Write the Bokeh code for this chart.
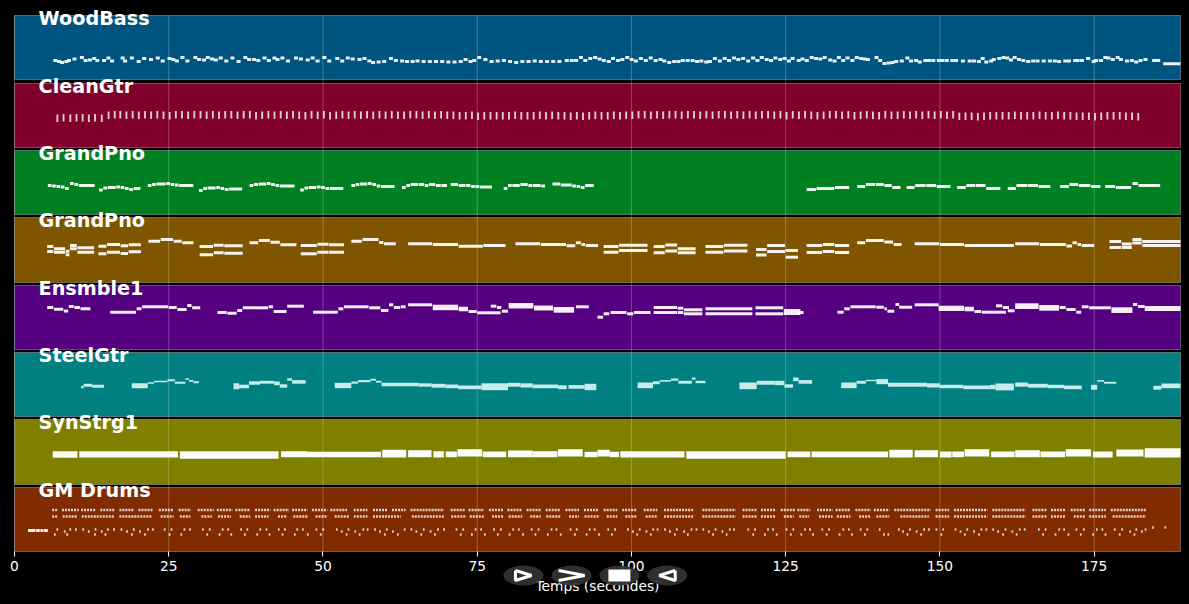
from bokeh.plotting import figure
from bokeh.models import Range1d, FixedTicker
from bokeh.core.properties import value
from bokeh.embed import file_html
from bokeh.resources import INLINE

TRACK_NAMES = ["WoodBass", "CleanGtr", "GrandPno", "GrandPno", "Ensmble1", "SteelGtr", "SynStrg1", "GM Drums"]
TRACK_COLORS = ["#005580", "#80002b", "#008020", "#805500", "#550080", "#008080", "#808000", "#802b00"]
X_TICKS = [0, 25, 50, 75, 100, 125, 150, 175]
DURATION = 189
AXIS_LABEL = "Temps (secondes)"

BASS_T = [6.3,6.9,7.4,8.1,8.5,9.4,10.6,11.2,11.9,12.6,13.1,14.2,14.9,15.5,17.2,17.6,18.7,19.8,20.7,21.8,22.9,23.7,24.8,25.4,26,26.9,27.7,29,29.6,30.4,31,31.7,32.3,33.1,34,35,36,37.1,37.7,38.5,39.2,40.2,40.9,41.8,42.3,43.1,44,45.3,46.1,47.2,48,48.8,49.9,50.7,52,52.8,53.7,54.5,55.6,56.4,57.2,57.8,58.7,59.6,60.7,61.5,62.5,63.3,64.2,65,66,67,68,69,70,71,72,72.8,73.6,74.2,75,76,77,78,79,80,81,82,83,84,85,86,87,88,89.2,90,90.7,91.5,92.2,93,93.8,94.5,95.2,96,96.7,97.5,98.2,99,99.7,100.4,101.2,102,102.8,103.6,104.4,105,105.8,106.6,107.3,108,108.8,109.6,110.3,111,111.8,112.4,113.2,114,114.8,115.5,116.3,117,117.8,118.6,119.4,120.1,120.8,121.6,122.3,123,123.8,124.5,125.2,125.8,126.8,127.4,128.1,128.9,129.6,130.3,131,131.9,132.6,133.3,134,134.7,135.5,136.2,136.9,137.5,138,139.4,140,140.7,141.4,142,142.6,143.5,144.4,145,145.8,146.4,147.3,147.9,148.6,149.5,150.1,150.8,151.7,152.3,153.4,154.5,155.2,156,156.6,157.2,158,158.4,159.3,160,160.6,161.2,161.8,162.5,163.2,164,164.8,165.5,166.5,167.5,168.3,169,170,170.6,171.6,172,172.7,173.7,174.6,175,175.8,176.5,177,177.7,178.5,179,180,180.8,181.5,182.2,183]
BASS_P = [19,18,17,18,19,20.5,22,19,19.5,21,19,19,21.5,18.5,21.5,18.5,21.5,18,21,20,21.5,18.5,21,20,18.5,22,18.5,22,20,19.5,22,20.5,19.5,21.5,18.5,21.5,18,22,20,20,19,21.5,19,21.5,20,21.5,18.5,21.5,20.5,19.5,21.5,18.5,22,18.5,21,18.5,21.5,20.5,20,21,18.5,17,17.5,18,21,19,18.5,18,18,18.5,18,18,18,18,17.5,17.5,18,20,18,19,22,20,18,18.5,19,18,17,18,18,18.5,18,18,18,18,19,19,19,22,19,21,22,20.5,19,18,21,19,20,22,20,18.5,21,19,21.5,19,20,18.5,17,18,18,19,19,19,18,18.5,17.5,18,21,18.5,21,19,21.5,20,21,18.5,21.5,19,22,20,19,21.5,20,21,18.5,21,19,20.5,19,22,21,20.5,22,19.5,18.5,22,19,21.5,19,22,21,20.5,20,22,19,16,16.5,17,18,18.5,21.5,18.5,19,17.5,19,19,19,19,19,19,19,19,18.5,18.5,18.5,18,21,17.5,18.5,20,21,22,21.5,19.5,22,20,19,18,18.5,18.5,18.5,18.5,18.5,18,18.5,18.5,19,19,19,21,18,19,19,22,21.5,20,22,20,18.5,19,17.5,19,20,20.5,21.5]
BASS_LONG_START = [184.4, 186.2]
BASS_LONG_END = [185.7, 189]
BASS_LONG_P = [19, 15.7]

GTR_T = [6.8,7.8,8.9,9.9,10.9,11.9,12.9,14,15.1,16.1,17,18,19,20,21,22,23,24,25,26,27,28,29,30,31,32,33,34,35,36,37,38,39,40,41,42,43,44,45,46,47,48,49,50,51,52,53,54,55,56,57,58,59,60,61,62,63,64,65,66,67,68,69,70,71,72,73,74,75,76,77,78,79,80,81,82,83,84,85,86,87,88,89,90,91,92,93,94,95,96,97,98,99,100,101,102,103,104,105,106,107,108,109,110,111,112,113,114,115,116,117,118,119,120,121,122,123,124,125,126,127,128,129,130,131,132,133,134,135,136,137,138,139,140,141,142,143,144,145,146,147,148,149,150,151,152,153,154,155,156,157,158,159,160,161,162,163,164,165,166,167,168,169,170,171,172,173,174,175,176,177,178,179,180,181,182]
GTR_LOW = [25.5,26,25.5,26,26,25.5,26,25.5,28.5,29,29,28.5,29,28.5,29,28.5,29,28.5,28,29,29,28.5,29,29,28.5,29,28.5,29,29,28.5,29,29,28,28.5,29,28.5,29,28.5,29,28.5,28,29,28.5,29,28,28.5,29,28.5,29,28.5,29,28.5,29,28.5,29,28.5,28.5,29,29,28.5,29,28.5,29,28.5,28.5,28,28,28.5,27.5,28,28,28,28,28,28.5,28,28,28,28.5,28,28.5,28,28,27.5,28,27.5,28,28.5,28,28,28.5,28,28.5,28.5,29,29,28.5,29,28.5,29,29,28.5,29,29,28.5,29,28.5,29,29,28.5,29,28.5,29,28.5,29,29,28.5,29,28,29,28.5,29,28.5,28,28.5,29,29,28.5,29,28,28.5,29,28.5,28,29,28.5,28.5,29,28.5,29,28.5,29,28.5,29,28.5,29,27.5,27.5,27.5,27,27.5,28,28,28,28,28.5,28,28,28,28.5,28,28,28.5,28,28,27.5,27.5,27.5,27,27.5,28,28,28,27.5,27.5,27,27]

PNO1_S = [5.4,6.1,6.8,7.5,8.2,9,9.7,10.4,13.7,14.4,15.1,16.5,17.2,17.9,18.6,19.3,21.6,22.3,23,24.6,25.3,26,26.7,29.9,30.6,31.3,32.7,33.4,34.1,34.8,38.1,38.8,39.6,40.9,41.6,42.3,43,46.3,47,47.7,49,49.7,50.4,51.1,54.6,55.3,56,57.3,58,58.7,59.4,62.8,63.5,64.2,65.5,66.5,67.2,68.3,69.2,70.7,72,73.2,74,74.7,75.4,79.3,80,80.7,82,83.3,84,85.4,87.2,88.6,90.4,91.1,91.8,92.5,128.4,130,133,136.6,138,139.6,141,142.3,144.6,146,147.8,149.5,152.8,154.3,155.8,157.5,161,162.4,164.3,166,169.5,171,172.5,174.5,176.8,178.5,181.2,182.2]
PNO1_E = [6,6.7,7.4,8.1,8.8,9.6,10.3,13,14.3,15,16.4,17.1,17.8,18.5,19.2,20.4,22.2,22.9,24.5,25.2,25.9,26.6,29,30.5,31.2,32.6,33.3,34,34.7,36.9,38.7,39.5,40.8,41.5,42.2,42.9,45.4,46.9,47.6,48.9,49.6,50.3,51,53.3,55.2,55.9,57.2,57.9,58.6,59.3,61.6,63.4,64.1,65.4,66.4,67.1,68.2,69.1,70.1,71.9,73.1,73.9,74.6,75.3,77.4,79.9,80.6,81.9,83.2,83.9,85.3,86,88.5,90.3,91,91.7,92.4,93.9,129.9,132.9,135.3,137.9,139.5,140.9,142.2,143.6,145.9,147.7,149.4,151.7,154.2,155.7,157.4,159.8,162.3,164.2,165.9,167.9,170.9,172.4,174.4,176,178.4,181,182.1,185.7]
PNO1_P = [29,28.5,28,27.5,26,31,30,29,24.5,26.5,27,27.5,27,26,25,26,29,30,30.5,31,30,29.5,29,24,26,26.5,27,26,25,25.5,29,30,30.5,31,30,29,28.5,24.5,26.5,27,27.5,27,26,26,29,30,30.5,31,30,28.5,28,27,29,30,30,29,30,29,29,30,29,29,28,28,27.5,26,29,29,30,29,29,28.5,30.5,29.5,28.5,28,27,29,25,26,27,28,30,30,29,27,27,29,29,28,27,29,29,26,26,29,29,28,28,30,29,28,28,27,31,29]

PNO2_S = [5.3,6.4,8.3,9,10.2,5.3,6.4,8.3,9,10.2,13.6,15,17.2,18.5,13.6,15,17.2,18.5,21.7,23.7,25.8,27.2,30,32.3,34,30,32.3,34,38.1,39.6,41.5,43.1,46.4,49.1,51,46.4,49.1,51,54.6,56.4,59.1,59.9,63.8,67.8,72,76,81.2,85.3,89.5,91,91.9,92.6,95.5,98,95.5,98,103.6,105.5,107.5,103.6,105.5,107.5,112,115,112,115,120.2,122,125,120.2,122,125,128.4,131,133,128.4,131,133,136.6,138,141,142.5,145.9,150,154,162.2,166.2,170.5,171.5,172.3,173,177.5,179.5,177.5,179.5,181.2,181.2,182.8,182.8]
PNO2_E = [6.3,8.2,8.9,10.1,12.9,6.3,8.2,8.9,10.1,12.9,14.9,17.1,18.4,20.5,14.9,17.1,18.4,20.5,23.6,25.7,27.1,29,32.2,33.9,37,32.2,33.9,37,39.5,41.4,43,45.7,49,50.9,53.4,49,50.9,53.4,56.3,59,59.8,61.8,67.7,71.9,75.9,79.6,85.2,89.4,90.9,91.8,92.5,94.6,97.9,102.6,97.9,102.6,105.4,107.4,110.4,105.4,107.4,110.4,114.9,118.8,114.9,118.8,121.9,124.9,127,121.9,124.9,127,130.9,132.9,135.3,130.9,132.9,135.3,137.9,140.9,142.4,143.8,149.9,153.9,162,166.1,170.4,171.4,172.2,172.9,175,179.4,181.1,179.4,181.1,182.7,182.7,189,189]
PNO2_P = [36,33.7,31.3,37,34.7,31,30.3,27.7,33.7,30.3,36.3,38,36.7,37.7,28.7,30.3,29,30.7,41.3,43,41.3,39.7,36,37.3,36.7,27.7,29.7,29.3,39.7,42,40.3,37.7,37,38.3,37.7,28.7,30.3,30.3,41.3,43,40,38.7,38.7,38,36.3,37,38.7,38,36.7,39.7,38,37,36,37.3,30.3,32,36,37.5,33.7,29.7,31.5,29.7,36,37.3,30.3,31.5,33,37,32,27.5,31,25.3,37,38,37,30,31,30,39.7,42,40.5,38,38.7,38,37,38.7,38,36.5,39.7,38,37,41,38.5,35,35,43,39.5,41,37]

ENS_S = [5.3,6.4,8,8.8,9.7,10.7,15.5,19.8,20.7,25,26.4,28,28.8,32.9,34.5,36.1,37,41.2,42,44.2,48.4,52.5,53.4,57.5,59.4,60.7,61.5,62.6,63.8,67.8,67.8,72,72,73.6,75,77.2,78.2,79,80.1,80.1,84.2,84.2,87.4,87.4,91,94.5,95.5,96.6,99.3,100.4,103.6,103.6,107.5,107.5,108.5,108.5,112,112,120.1,120.1,124.7,124.7,127,133.4,134.5,135.5,139.7,141,141.5,142.8,143.4,145.9,149.8,149.8,154,154,155.6,156.8,159.1,160.2,161,162.2,162.2,166.1,166.1,169.4,170.5,172.1,173,174.2,177.8,177.8,181.3,182.1]
ENS_E = [6.3,7.9,8.7,9.6,10.6,12.3,19.7,20.6,24.9,26.3,27.9,28.7,30.1,34.4,36,36.9,41.1,41.9,44.1,46.9,52.4,53.3,57.4,59.3,60.6,61.4,62.5,63.4,67.7,71.9,71.9,73.5,73.5,74.9,78.8,78.1,78.9,80,84.1,84.1,87.3,87.3,90.7,90.7,93.1,95.4,96.4,99.2,100.3,103.1,107.4,107.4,108.4,108.4,111.5,111.5,119.6,119.6,124.6,124.6,127.4,127.4,127.9,134.4,135.4,139.6,140.9,141.4,142.6,143.4,145.5,149.8,153.9,153.9,155.5,155.5,156.7,160.7,160.1,161.2,162.1,166,166,169.3,169.3,170.4,172,172.9,174.1,177.7,181.2,181.2,182,183.2]
ENS_P = [42,40.3,38.5,43,42,40.7,37.3,40.7,42.7,42,40,44,41.7,37,36.3,39,41.7,42.7,38,43.3,37.3,40.7,42.7,41.7,39,44.7,42,42.7,44.7,43.3,40.8,41.3,39.7,38,36.7,43.3,42,38.3,45,42.5,42.5,40.5,41,38.3,42.7,32.3,35.7,37,35.7,37,42,37,41.3,37,39.7,35.7,40.7,35.7,41.7,35.7,39,36,37,37.3,40.7,42.7,42.3,40.7,38.3,45,42.3,44.7,42.3,40,41.3,39.7,38,37.3,43.7,42,38.7,44.7,42,43,40.3,42,40,37.3,42.7,41.7,40.7,38,45,43]
ENS_FINAL_START = [183.2]
ENS_FINAL_END = [189]
ENS_FINAL_P = [41]

STEEL_S = [10.8,11.2,12.6,19,21.6,22.6,24.8,26,27.7,28.3,29,35.5,36.4,38,39.8,42.1,43,44.2,45,51.9,54.6,55.7,57.7,58.6,59.5,65.5,67.6,69.9,71.9,75.7,80,82,84,88.1,89.8,92.4,101,103.5,104.6,106.4,107.6,109.8,110.4,117.5,120.3,123.3,124.8,126.2,127.1,134,136.5,138,139.7,141.6,147.9,150,153.8,158.1,159,162.2,164.3,167.5,170.1,174.5,175.5,176.6,184.6,185.9]
STEEL_E = [11.2,12.6,14.5,21.6,22.6,24.8,26,27.7,28.3,29,29.9,36.4,38,39.8,42.1,43,44.2,45,47.2,54.6,55.7,57.7,58.6,59.5,65.5,67.6,69.9,71.9,75.7,80,82,84,88.1,89.5,92.4,94.3,103.5,104.6,106.4,107.6,109.8,110.4,112,120.3,123.3,124.8,126.2,127.1,129.3,136.5,138,139.7,141.6,147.9,150,153.8,158.1,159,162,164.3,167.5,170.1,173,175.5,176.6,178.6,185.9,189]
STEEL_LOW = [28,29.5,28.5,28,32.5,34,35,32.5,36.5,34.5,33,27,28,31.5,32.5,31,28.5,35.5,32.5,28,32.5,34,35.5,33.5,30,29.5,28.5,28,27,26,29.5,28.7,28,27,27.5,26,28,32,34.5,35.5,32.5,36.5,33,27,31.5,31,28.5,35,32.5,28,32.5,35,32,29.5,28.7,28,27,27,25.8,29.5,28.5,28,27,26.5,34.5,32.5,26.5,28]
STEEL_HIGH = [31,33,32,33.5,34.5,36,37.5,35,38.5,36.7,35.5,33.5,32,35.5,36,35.3,32.5,38.5,36.7,34,35.3,36.7,38,36,34,33.5,33,32.3,31.3,33.5,34,33.5,32.3,31.5,31.7,33,34.3,35.5,36.7,38.3,36,39.3,36,34.3,36,36,32.5,39.3,36.7,34.3,36,37,37.7,34,33.5,32,31.3,32,33.3,34.3,33,32,31.3,32,36.7,35,31,33.3]

SYNTH_S = [6.2,10.5,26.8,43.2,47.4,59.6,63.8,67.9,69.9,71.8,75.9,80,84,88.1,92.4,94.5,96.5,98.2,108.9,125.3,129.2,141.8,145.9,150,152,154,158.3,162.2,166.3,170.4,174.8,178.6,183.2]
SYNTH_E = [10.2,26.5,42.8,47.4,59.4,63.5,67.6,69.6,71.7,75.8,79.7,84,88,92.1,94.5,96.5,98,108.6,125,129,141.6,145.6,149.7,151.9,153.9,158,162.1,166.2,170.3,174.5,178,183,189]
SYNTH_LOW = [26.7,27,25.7,27.3,27.3,27,27.3,27,27.3,28,27.3,27.3,27.3,28,27.3,28,27.3,27,25.7,27.3,27.3,27,27.3,27,27.3,28,27.3,27.3,27.3,28,27,28,27]
SYNTH_HIGH = [33.3,33.3,33.3,33.3,32.7,34.7,34.3,33.3,33,35.3,33,34,33.3,35.3,32.7,34.7,32.7,33.3,33.3,33,33,34.7,34.3,33,33,35.3,33,34.3,33,35.3,33,35,36.3]

HAT_S = [6.1,7.7,10.8,13.9,17,20.1,23.4,26.6,29.7,32.8,35.8,39,42,45,48.2,51.2,55,58.1,61.2,64.2,70.7,73.6,76.9,79.9,83,86.1,89.3,92.3,95.5,98.5,102,105.3,111.5,118,121,124.2,126.9,130.1,133.1,136.3,139.3,142.6,149.3,152.3,158.5,165,168,171.2,174.2,177.7]
HAT_E = [7,10.4,13.1,16.2,19.3,22.4,25.8,28.6,32.3,35.3,38.2,41.5,44.5,47.5,50.7,53.9,57.2,60.4,63.4,69.6,73.1,76.1,79.3,82.3,85.3,88.5,91.5,94.7,97.7,100.9,104.2,110.1,116.9,120.4,123.4,126.6,129,132.6,135.5,138.8,141.8,148.5,151.5,157.7,163.9,167.4,170.4,173.6,176.9,183.4]
RIDE_S = [6.1,7.8,10.9,17,23.7,26.8,30.3,33,36.5,39,42.7,45.2,48.8,51.9,55,58.1,64.4,70.8,73.8,77.4,80.1,83.6,86.2,89.9,92.4,96,99,102.3,105.3,111.5,118,121,124.7,127.2,130.4,133.3,136.9,139.7,143.6,149.3,152.3,158.5,165,168,171.7,174.2,178]
RIDE_E = [7,10.2,16.1,22.3,25.8,28.5,32,35.1,38.2,41.2,44.2,47.5,50.6,54.2,57.2,62.6,69.6,73.1,76.1,79.3,82.3,85.3,88.5,91.5,94.7,97.7,100.9,104.2,110.1,116.9,120.4,123.4,126.3,128.8,132.6,135.5,138.8,141.8,148.2,151.5,157.7,163.9,167.4,170.4,173.6,176.9,183.4]
INTRO_S = [2.2,3.5,4.2,4.7]
INTRO_E = [3.4,4.1,4.6,5.4]
INTRO_P = [21,21,21,21]
KICK_T = [6.4,6.8,8,8.4,8.9,9.8,11,11.9,12.9,13,14,14.6,15,16,17.2,18.1,18.9,19.2,20.2,21,21.5,22.3,24.2,25,25.3,26.9,27.4,28.3,30.4,31.1,31.5,33.1,33.6,34.5,35,36.6,37.2,37.6,39.2,39.7,40.7,41.2,42.7,43.3,43.7,45.3,45.7,46.6,47.4,48.8,49.5,49.9,52.1,52.9,53.7,54,55.1,55.8,56.4,57.1,58.3,59.1,59.9,60.2,61.2,62,
          63.1,64.2,65,65.8,66.2,67.3,68,68.5,69.5,71.5,72.2,72.6,74,74.6,75.5,76.1,77.6,78.2,78.7,80.1,80.7,81.6,82.3,83.7,84.3,84.8,86.3,86.9,87.7,88.4,90,90.7,91,92.6,93.1,93.9,94.6,96.1,96.7,97.2,99.3,100.1,100.8,101.2,102.3,103,103.4,104.1,105.3,106.1,106.9,107.2,108.4,109,109.6,110.4,111.5,112.4,113.1,113.5,114.6,115.3,115.8,116.5,118.8,119.6,119.9,121.5,122,122.8,123.4,125,125.7,126.1,
          127.4,128,128.8,129.3,130.8,131.5,131.9,133.6,134.2,135.1,135.6,137,137.7,138.1,140.1,140.8,141.5,143.2,143.9,144.6,145,146.1,146.8,147.3,148.1,149.3,150.1,150.4,152.4,153.2,153.9,154.3,155.4,156.2,156.6,157.4,158.5,159.3,160.1,160.5,161.6,162.3,162.8,163.6,165.9,166.6,167,168.6,169.2,170,170.7,172,172.7,173.2,174.7,175.3,176.2,176.7,178.2,179,179.4,180.7,181.4,181.7,182.6,183.2,184.4,186.4]
KICK_P = [17,22,20,17,22,22,22,20,17,22,20,17,22,22,22,20,17,22,20,17,22,22,22,17,22,17,22,22,22,17,22,17,22,22,17,22,17,22,17,22,22,17,22,17,22,17,22,22,17,22,17,22,22,20,17,22,20,17,22,22,22,20,17,22,20,17,
          22,22,20,17,22,20,17,22,22,22,17,22,17,22,22,17,22,17,22,17,22,22,17,22,17,22,17,22,22,17,22,17,22,17,22,22,17,22,17,22,22,20,17,22,20,17,22,22,22,20,17,22,20,17,22,22,22,20,17,22,20,17,22,22,22,17,22,17,22,22,17,22,17,22,
          17,22,22,17,22,17,22,17,22,22,17,22,17,22,22,17,17,22,20,17,22,20,17,22,22,22,17,22,22,20,17,22,20,17,22,22,22,20,17,22,20,17,22,22,22,17,22,17,22,22,17,22,17,22,17,22,22,17,22,17,22,20,17,22,20,22,24,24]

CONTROL_X = [82.5, 90.3, 98.05, 105.8]

FIG_W, FIG_H = 1189, 604
PX_PER_T = 1166 / DURATION
PANEL_TOP_ROWS = [15, 83, 150, 217, 285, 352, 419, 487]
PANEL_BOTTOM_ROWS = [79, 147, 214, 282, 349, 416, 484, 551]
TOP = FIG_H
bases = [TOP - r for r in PANEL_BOTTOM_ROWS]
tops = [TOP - r for r in PANEL_TOP_ROWS]

p = figure(width=FIG_W, height=FIG_H, output_backend="svg", toolbar_location=None,
           x_range=Range1d(-14 / PX_PER_T, (FIG_W - 14) / PX_PER_T), y_range=Range1d(0, FIG_H),
           y_axis_location=None, min_border_left=0, min_border_right=0,
           min_border_top=0, min_border_bottom=0,
           background_fill_color="black", border_fill_color="black")
p.outline_line_color = None
p.grid.visible = False

p.quad(left=[0]*8, right=[DURATION]*8, bottom=bases, top=tops, fill_color=TRACK_COLORS,
       line_color="white", line_alpha=0.3, line_width=1)
p.segment(x0=X_TICKS, x1=X_TICKS, y0=[bases[-1]]*len(X_TICKS), y1=[tops[0]]*len(X_TICKS),
          line_color="white", line_alpha=0.24, line_width=1)


def notes(i, s, e, h, th=2.6, alpha=0.93):
    b = bases[i]
    p.quad(left=s, right=e, bottom=[b + v - th / 2 for v in h], top=[b + v + th / 2 for v in h],
           fill_color="white", fill_alpha=alpha, line_color=None)


def bands(i, s, e, lo, hi, color="white", alpha=0.93, inset=0.0):
    b = bases[i]
    p.quad(left=s, right=e, bottom=[b + v + inset for v in lo], top=[b + v - inset for v in hi],
           fill_color=color, fill_alpha=alpha, line_color=None)


notes(0, BASS_T, [t + 0.65 for t in BASS_T], BASS_P, th=2.9, alpha=0.9)
notes(0, BASS_LONG_START, BASS_LONG_END, BASS_LONG_P, th=3)
bands(1, GTR_T, [t + 0.3 for t in GTR_T], GTR_LOW, [v + 7.5 for v in GTR_LOW], alpha=0.8)
notes(2, PNO1_S, PNO1_E, PNO1_P, th=3)
notes(3, PNO2_S, PNO2_E, PNO2_P, th=3)
notes(4, ENS_S, ENS_E, ENS_P, th=3)
notes(4, ENS_FINAL_START, ENS_FINAL_END, ENS_FINAL_P, th=5)
bands(5, STEEL_S, STEEL_E, STEEL_LOW, STEEL_HIGH, color="#d8f4f4", alpha=0.92, inset=0.3)
bands(6, SYNTH_S, SYNTH_E, SYNTH_LOW, SYNTH_HIGH, alpha=0.97)

for s, e, lvl in ((HAT_S, HAT_E, 41.5), (RIDE_S, RIDE_E, 35)):
    r = p.segment(x0=s, x1=e, y0=[bases[7] + lvl]*len(s), y1=[bases[7] + lvl]*len(s),
                  line_color="white", line_alpha=0.78, line_width=2.4, line_cap="butt")
    r.glyph.line_dash = [2, 1]
notes(7, INTRO_S, INTRO_E, INTRO_P, th=3)
notes(7, KICK_T, [t + 0.28 for t in KICK_T], KICK_P, th=2.4, alpha=0.8)

p.text(x=[3.9]*8, y=[t - 2.5 for t in tops], text=TRACK_NAMES, text_color="white",
       text_font=value("DejaVu Sans"), text_font_style="bold", text_font_size="19.2px",
       text_baseline="alphabetic", text_align="left")

ax = p.xaxis[0]
ax.fixed_location = bases[-1]
ax.ticker = FixedTicker(ticks=X_TICKS)
ax.axis_line_color = None
ax.major_tick_line_color = "white"
ax.major_tick_out = 5
ax.major_tick_in = 0
ax.minor_tick_line_color = None
ax.major_label_text_color = "white"
ax.major_label_text_font = "DejaVu Sans"
ax.major_label_text_font_size = "13.8px"
ax.major_label_standoff = 4

p.text(x=[DURATION / 2], y=[TOP - 585.5], text=[AXIS_LABEL], text_color="white",
       text_font=value("DejaVu Sans"), text_font_size="13.8px",
       text_baseline="middle", text_align="center")

btn_y = TOP - 575
p.ellipse(x=CONTROL_X, y=[btn_y]*4, width=[40]*4, height=[20]*4, width_units="screen", height_units="screen",
          fill_color="#333333", fill_alpha=0.92, line_color=None, level="overlay")
tx = 8 / PX_PER_T
p.line(x=[CONTROL_X[0] - tx, CONTROL_X[0] + tx, CONTROL_X[0] - tx, CONTROL_X[0] - tx],
       y=[btn_y + 5, btn_y, btn_y - 5, btn_y + 5], line_color="white", line_width=3, level="overlay")
p.line(x=[CONTROL_X[3] + tx, CONTROL_X[3] - tx, CONTROL_X[3] + tx, CONTROL_X[3] + tx],
       y=[btn_y + 5, btn_y, btn_y - 5, btn_y + 5], line_color="white", line_width=3, level="overlay")
dx = 13 / PX_PER_T
p.line(x=[CONTROL_X[1] - dx, CONTROL_X[1] + dx, CONTROL_X[1] - dx], y=[btn_y + 5, btn_y, btn_y - 5],
       line_color="white", line_width=3, level="overlay")
p.rect(x=[CONTROL_X[2]], y=[btn_y], width=[22], height=[12], width_units="screen", height_units="screen",
       fill_color="white", line_color=None, level="overlay")

html = file_html(p, INLINE).replace("<body>", '<body style="background:#000;margin:0">')
open("out.html", "w").write(html)
